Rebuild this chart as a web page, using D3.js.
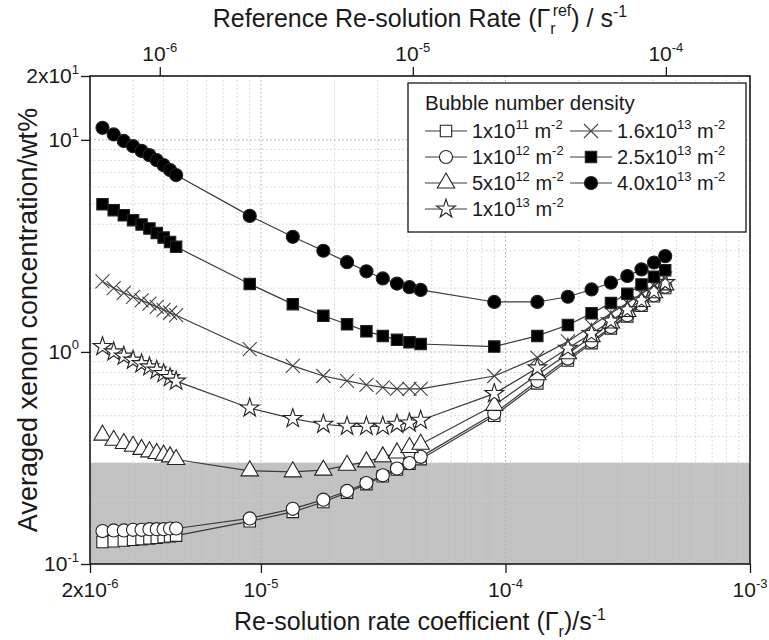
<!DOCTYPE html>
<html lang="en">
<head>
<meta charset="utf-8">
<title>Averaged xenon concentration vs re-solution rate</title>
<script src="https://d3js.org/d3.v7.min.js"></script>
<style>
body { margin: 0; background: #fff; }
text { font-family: "Liberation Sans", Arial, sans-serif; fill: #1a1a1a; }
</style>
</head>
<body>
<script>
// re-solution rate coefficient (bottom axis), s^-1
var rate = [2.25e-6, 2.5e-6, 2.75e-6, 3.0e-6, 3.25e-6, 3.5e-6, 3.75e-6, 4.0e-6, 4.25e-6, 4.5e-6,
            9e-6, 1.35e-5, 1.8e-5, 2.25e-5, 2.7e-5, 3.15e-5, 3.6e-5, 4.05e-5, 4.5e-5,
            9e-5, 1.35e-4, 1.8e-4, 2.25e-4, 2.7e-4, 3.15e-4, 3.6e-4, 4.05e-4, 4.5e-4];

// averaged xenon concentration, wt%, one list per bubble number density
var d1e11 = [0.127, 0.128, 0.129, 0.130, 0.131, 0.132, 0.133, 0.134, 0.135, 0.136,
             0.159, 0.176, 0.196, 0.217, 0.238, 0.259, 0.279, 0.297, 0.312,
             0.50, 0.71, 0.91, 1.10, 1.29, 1.47, 1.65, 1.83, 2.00];
var d1e12 = [0.143, 0.144, 0.144, 0.145, 0.145, 0.146, 0.146, 0.146, 0.147, 0.147,
             0.164, 0.182, 0.201, 0.221, 0.241, 0.262, 0.282, 0.299, 0.320,
             0.512, 0.73, 0.93, 1.12, 1.31, 1.49, 1.67, 1.85, 2.03];
var d5e12 = [0.405, 0.383, 0.370, 0.359, 0.347, 0.338, 0.332, 0.326, 0.320, 0.311,
             0.275, 0.272, 0.277, 0.292, 0.303, 0.320, 0.334, 0.354, 0.367,
             0.560, 0.78, 0.98, 1.18, 1.37, 1.55, 1.73, 1.90, 2.07];
var d1e13 = [1.06, 1.0, 0.955, 0.914, 0.88, 0.85, 0.82, 0.79, 0.757, 0.728,
             0.544, 0.485, 0.456, 0.446, 0.446, 0.446, 0.456, 0.462, 0.476,
             0.636, 0.84, 1.04, 1.22, 1.40, 1.58, 1.75, 1.93, 2.12];
var d16e13 = [2.15, 2.0, 1.9, 1.82, 1.75, 1.69, 1.63, 1.58, 1.53, 1.49,
              1.03, 0.86, 0.77, 0.73, 0.70, 0.68, 0.67, 0.67, 0.67,
              0.77, 0.94, 1.12, 1.33, 1.52, 1.70, 1.88, 2.05, 2.22];
var d25e13 = [4.97, 4.66, 4.41, 4.18, 3.99, 3.82, 3.64, 3.46, 3.30, 3.13,
              2.09, 1.68, 1.48, 1.35, 1.25, 1.19, 1.14, 1.11, 1.09,
              1.06, 1.19, 1.34, 1.52, 1.70, 1.88, 2.08, 2.26, 2.43];
var d4e13 = [11.4, 10.6, 9.88, 9.34, 8.87, 8.47, 8.02, 7.60, 7.20, 6.82,
             4.38, 3.49, 3.0, 2.65, 2.40, 2.22, 2.10, 2.02, 1.96,
             1.72, 1.72, 1.82, 1.97, 2.12, 2.28, 2.45, 2.64, 2.83];

var densMant = ["1", "1", "5", "1", "1.6", "2.5", "4.0"];
var densExp = ["11", "12", "12", "13", "13", "13", "13"];
var markers = ["square", "circle", "triangle", "star", "cross", "square", "circle"];
var filled = [false, false, false, false, false, true, true];
var seriesValues = [d1e11, d1e12, d5e12, d1e13, d16e13, d25e13, d4e13];

// tick labels
var xMajor = [2e-6, 1e-5, 1e-4, 1e-3];
var xMajorLab = [["2x10", "-6"], ["10", "-5"], ["10", "-4"], ["10", "-3"]];
var topMajor = [1e-6, 1e-5, 1e-4];
var topMajorLab = [["10", "-6"], ["10", "-5"], ["10", "-4"]];
var yMajor = [0.1, 1, 10, 20];
var yMajorLab = [["10", "-1"], ["10", "0"], ["10", "1"], ["2x10", "1"]];
var bandLimit = 0.3;

var margin = {top: 76, right: 19, bottom: 76, left: 90};
var W = 769, H = 640;
var w = W - margin.left - margin.right;
var h = H - margin.top - margin.bottom;

var svg = d3.select("body").append("svg").attr("width", W).attr("height", H);
var g = svg.append("g").attr("transform", "translate(" + margin.left + "," + margin.top + ")");

var x = d3.scaleLog().domain([2e-6, 1e-3]).range([0, w]);
var xTop = d3.scaleLog().domain([5.3e-7, 2.15e-4]).range([0, w]);
var y = d3.scaleLog().domain([0.1, 20]).range([h, 0]);

// shaded band
g.append("rect")
  .attr("x", 0).attr("y", y(bandLimit))
  .attr("width", w).attr("height", y(0.1) - y(bandLimit))
  .attr("fill", "#c2c2c2");

// grid
function isMajor(v) { return Math.abs(Math.log10(v) - Math.round(Math.log10(v))) < 1e-9; }
g.append("g").selectAll("line").data(x.ticks()).enter().append("line")
  .attr("x1", function(d) { return x(d); }).attr("x2", function(d) { return x(d); })
  .attr("y1", 0).attr("y2", h)
  .attr("stroke", function(d) { return isMajor(d) ? "#a8a8a8" : "#d0d0d0"; })
  .attr("stroke-dasharray", "1.5,2.5").attr("stroke-width", 1);
g.append("g").selectAll("line").data(y.ticks()).enter().append("line")
  .attr("y1", function(d) { return y(d); }).attr("y2", function(d) { return y(d); })
  .attr("x1", 0).attr("x2", w)
  .attr("stroke", function(d) { return isMajor(d) ? "#a8a8a8" : "#d0d0d0"; })
  .attr("stroke-dasharray", "1.5,2.5").attr("stroke-width", 1);

// marker shapes
function markerPath(type) {
  if (type === "square") return d3.symbol().type(d3.symbolSquare).size(130)();
  if (type === "circle") return d3.symbol().type(d3.symbolCircle).size(135)();
  if (type === "triangle") return d3.symbol().type(d3.symbolTriangle).size(130)();
  if (type === "star") return d3.symbol().type(d3.symbolStar).size(110)();
  var s = 7;
  return "M" + (-s) + "," + (-s) + "L" + s + "," + s + "M" + (-s) + "," + s + "L" + s + "," + (-s);
}

var line = d3.line()
  .x(function(d) { return x(d.r); })
  .y(function(d) { return y(d.c); });

seriesValues.forEach(function(vals, i) {
  var pts = rate.map(function(r, k) { return {r: r, c: vals[k]}; });
  g.append("path").datum(pts)
    .attr("fill", "none").attr("stroke", "#3a3a3a").attr("stroke-width", 1.2)
    .attr("d", line);
  g.append("g").selectAll("path").data(pts).enter().append("path")
    .attr("transform", function(d) { return "translate(" + x(d.r) + "," + y(d.c) + ")"; })
    .attr("d", markerPath(markers[i]))
    .attr("fill", filled[i] ? "#000" : (markers[i] === "cross" ? "none" : "#fff"))
    .attr("stroke", markers[i] === "cross" ? "#444" : "#222")
    .attr("stroke-width", 1.1);
});

// text with superscript helper
function powText(sel, base, exp, fs) {
  sel.append("tspan").text(base);
  sel.append("tspan").attr("dy", -fs * 0.45).attr("font-size", fs * 0.62).text(exp);
}

// axes
var bottomAx = g.append("g").attr("transform", "translate(0," + h + ")");
bottomAx.call(d3.axisBottom(x).tickValues(x.ticks().filter(function(d) { return !isMajor(d); })).tickSize(5).tickFormat(""));
bottomAx.call(d3.axisBottom(x).tickValues(xMajor).tickSize(9).tickFormat(""));
var topAx = g.append("g");
topAx.call(d3.axisTop(xTop).tickValues(xTop.ticks().filter(function(d) { return !isMajor(d); })).tickSize(5).tickFormat(""));
topAx.call(d3.axisTop(xTop).tickValues(topMajor).tickSize(9).tickFormat(""));
var leftAx = g.append("g");
leftAx.call(d3.axisLeft(y).tickValues(y.ticks().filter(function(d) { return !isMajor(d) && d < 20; })).tickSize(5).tickFormat(""));
leftAx.call(d3.axisLeft(y).tickValues(yMajor).tickSize(9).tickFormat(""));
g.selectAll(".domain").remove();
g.selectAll(".tick line").attr("stroke", "#1a1a1a").attr("stroke-width", 1.3);

g.append("rect").attr("x", 0).attr("y", 0).attr("width", w).attr("height", h)
  .attr("fill", "none").attr("stroke", "#1a1a1a").attr("stroke-width", 1.6);

var tickFs = 21;
xMajor.forEach(function(v, i) {
  var t = g.append("text").attr("x", x(v)).attr("y", h + 33)
    .attr("text-anchor", "middle").attr("font-size", tickFs);
  powText(t, xMajorLab[i][0], xMajorLab[i][1], tickFs);
});
topMajor.forEach(function(v, i) {
  var t = g.append("text").attr("x", xTop(v)).attr("y", -15)
    .attr("text-anchor", "middle").attr("font-size", tickFs);
  powText(t, topMajorLab[i][0], topMajorLab[i][1], tickFs);
});
yMajor.forEach(function(v, i) {
  var t = g.append("text").attr("x", -11).attr("y", y(v) + 7)
    .attr("text-anchor", "end").attr("font-size", tickFs);
  powText(t, yMajorLab[i][0], yMajorLab[i][1], tickFs);
});

// axis titles
var titleFs = 25;
var bt = g.append("text").attr("x", w / 2).attr("y", h + 66)
  .attr("text-anchor", "middle").attr("font-size", titleFs);
bt.append("tspan").text("Re-solution rate coefficient (\u0393");
bt.append("tspan").attr("dy", 7).attr("font-size", 16).text("r");
bt.append("tspan").attr("dy", -7).text(")/s");
bt.append("tspan").attr("dy", -10).attr("font-size", 16).text("-1");

var tt = g.append("text").attr("x", w / 2).attr("y", -49)
  .attr("text-anchor", "middle").attr("font-size", titleFs);
tt.append("tspan").text("Reference Re-solution Rate (\u0393");
tt.append("tspan").attr("dy", 7).attr("font-size", 16).text("r");
tt.append("tspan").attr("dx", -3).attr("dy", -18).attr("font-size", 16).text("ref");
tt.append("tspan").attr("dy", 11).text(") / s");
tt.append("tspan").attr("dy", -10).attr("font-size", 16).text("-1");

g.append("text")
  .attr("transform", "translate(-53," + (h / 2) + ") rotate(-90)")
  .attr("text-anchor", "middle").attr("font-size", 27)
  .text("Averaged xenon concentration/wt%");

// legend
var lg = g.append("g").attr("transform", "translate(318,7)");
lg.append("rect").attr("width", 338).attr("height", 149)
  .attr("fill", "#fff").attr("stroke", "#1a1a1a").attr("stroke-width", 1.3);
lg.append("text").attr("x", 17).attr("y", 27).attr("font-size", 20.5).text("Bubble number density");
var legFs = 20;
seriesValues.forEach(function(vals, i) {
  var col = i < 4 ? 0 : 1;
  var row = i < 4 ? i : i - 4;
  var lx = col === 0 ? 17 : 162;
  var ly = 48 + row * 26;
  var item = lg.append("g").attr("transform", "translate(" + lx + "," + ly + ")");
  item.append("line").attr("x1", 0).attr("x2", 42).attr("stroke", "#3a3a3a").attr("stroke-width", 1.2);
  item.append("path").attr("transform", "translate(21,0)")
    .attr("d", markerPath(markers[i]))
    .attr("fill", filled[i] ? "#000" : (markers[i] === "cross" ? "none" : "#fff"))
    .attr("stroke", markers[i] === "cross" ? "#444" : "#222").attr("stroke-width", 1.1);
  var t = item.append("text").attr("x", 47).attr("y", 7).attr("font-size", legFs);
  t.append("tspan").text(densMant[i] + "x10");
  t.append("tspan").attr("dy", -9).attr("font-size", 13).text(densExp[i]);
  t.append("tspan").attr("dy", 9).text(" m");
  t.append("tspan").attr("dy", -9).attr("font-size", 13).text("-2");
});
</script>
</body>
</html>
